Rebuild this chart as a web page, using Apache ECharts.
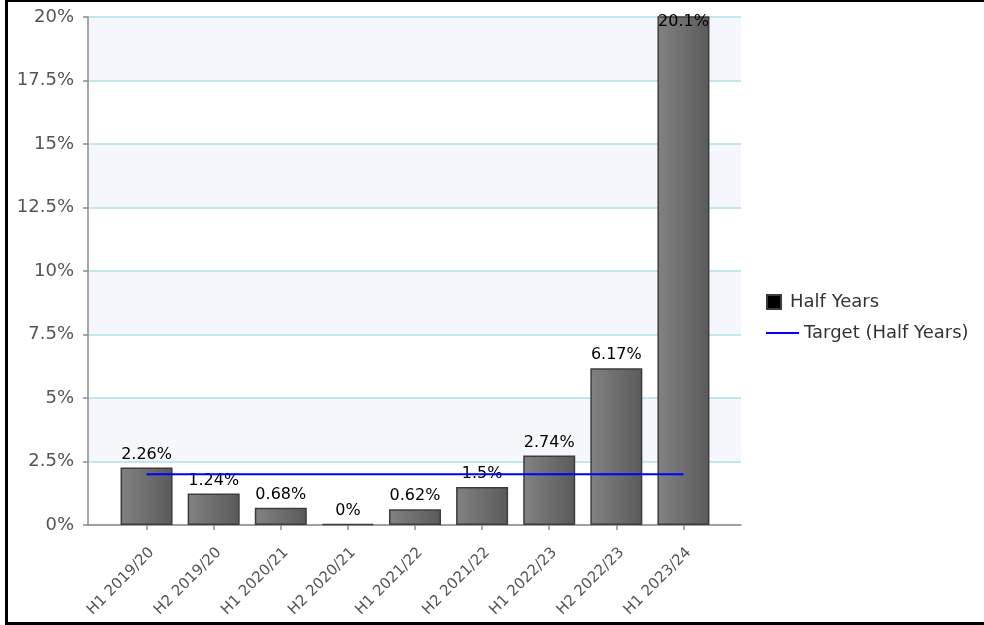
<!DOCTYPE html>
<html>
<head>
<meta charset="utf-8">
<script src="https://cdn.jsdelivr.net/npm/echarts@6/dist/echarts.min.js"></script>
<style>
  html, body { margin: 0; padding: 0; background: #fff; }
  #chart { width: 984px; height: 625px; }
</style>
</head>
<body>
<div id="chart"></div>
<script>
// Half-year values (%) and the target level
const periods = ['H1 2019/20', 'H2 2019/20', 'H1 2020/21', 'H2 2020/21', 'H1 2021/22',
                 'H2 2021/22', 'H1 2022/23', 'H2 2022/23', 'H1 2023/24'];
const halfYears = [2.26, 1.24, 0.68, 0, 0.62, 1.5, 2.74, 6.17, 20.1];
const targetValues = [2, 2, 2, 2, 2, 2, 2, 2, 2];
const yMin = 0, yMax = 20, yStep = 2.5;

const FONT = 'DejaVu Sans';
const chart = echarts.init(document.getElementById('chart'), null, { renderer: 'canvas' });

// a value above the axis maximum keeps its label inside the clipped bar
const barData = halfYears.map(function (v) {
  if (v > yMax) {
    return { value: v, label: { position: 'insideTop', distance: 0, offset: [0, -2] } };
  }
  return v;
});

chart.setOption({
  animation: false,
  backgroundColor: '#ffffff',
  grid: [
    // outer frame: value axis, split bands, grid lines
    { left: 88, top: 17, width: 653, height: 508 },
    // categories sit inside the frame with a margin on each side
    { left: 113, top: 17, width: 604, height: 508 }
  ],
  xAxis: [
    {
      gridIndex: 0, type: 'value', min: 0, max: 1,
      axisLine: { show: true, lineStyle: { color: '#8c8c8c', width: 1.5 } },
      axisTick: { show: false }, axisLabel: { show: false }, splitLine: { show: false }
    },
    {
      gridIndex: 1, type: 'category', data: periods,
      axisLine: { show: false },
      axisTick: { show: true, alignWithLabel: true, length: 5, lineStyle: { color: '#8c8c8c', width: 1.5 } },
      axisLabel: { rotate: 45, fontFamily: FONT, fontSize: 15, color: '#555', margin: 20,
                   verticalAlign: 'top', interval: 0 },
      splitLine: { show: false }
    }
  ],
  yAxis: [
    {
      gridIndex: 0, type: 'value', min: yMin, max: yMax, interval: yStep,
      axisLine: { show: true, lineStyle: { color: '#8c8c8c', width: 1.5 } },
      axisTick: { show: true, length: 5, lineStyle: { color: '#8c8c8c', width: 1.5 } },
      axisLabel: { fontFamily: FONT, fontSize: 18, color: '#555', margin: 14,
                   formatter: function (v) { return v + '%'; } },
      splitLine: { show: true, lineStyle: { color: '#b2e0e8', width: 1.5 } },
      splitArea: { show: true, areaStyle: { color: ['#ffffff', '#f5f7fd'] } }
    },
    {
      gridIndex: 1, type: 'value', min: yMin, max: yMax, show: false
    }
  ],
  legend: [
    {
      data: [{ name: 'Half Years', icon: 'rect', itemStyle: { color: '#000' } }],
      orient: 'vertical', left: 766, top: 293, padding: 0,
      itemWidth: 14, itemHeight: 14,
      textStyle: { fontFamily: FONT, fontSize: 18, color: '#333', padding: [0, 0, 0, 4] }
    },
    {
      data: [{ name: 'Target (Half Years)', icon: 'rect', itemStyle: { color: '#0000ff' } }],
      orient: 'vertical', left: 766, top: 324, padding: 0,
      itemWidth: 33, itemHeight: 2,
      textStyle: { fontFamily: FONT, fontSize: 18, color: '#333' }
    }
  ],
  series: [
    {
      name: 'Half Years', type: 'bar', xAxisIndex: 1, yAxisIndex: 1,
      data: barData, barWidth: 52, barMinHeight: 1, z: 2,
      itemStyle: {
        color: new echarts.graphic.LinearGradient(0, 0, 1, 0, [
          { offset: 0, color: '#828282' },
          { offset: 1, color: '#5a5a5a' }
        ]),
        borderColor: '#3c3c3c', borderWidth: 1.5
      },
      label: {
        show: true, position: 'top', distance: 5,
        fontFamily: FONT, fontSize: 16, color: '#000',
        formatter: function (p) { return p.value + '%'; }
      }
    },
    {
      name: 'Target (Half Years)', type: 'line', xAxisIndex: 1, yAxisIndex: 1,
      data: targetValues, z: 5, symbol: 'none',
      lineStyle: { color: '#0000ff', width: 2 }
    }
  ],
  graphic: [
    { type: 'rect', left: 5, top: 0, shape: { width: 3, height: 625 }, style: { fill: '#000' } },
    { type: 'rect', left: 5, top: 0, shape: { width: 979, height: 2 }, style: { fill: '#000' } },
    { type: 'rect', left: 5, top: 622, shape: { width: 979, height: 3 }, style: { fill: '#000' } }
  ]
});
</script>
</body>
</html>
